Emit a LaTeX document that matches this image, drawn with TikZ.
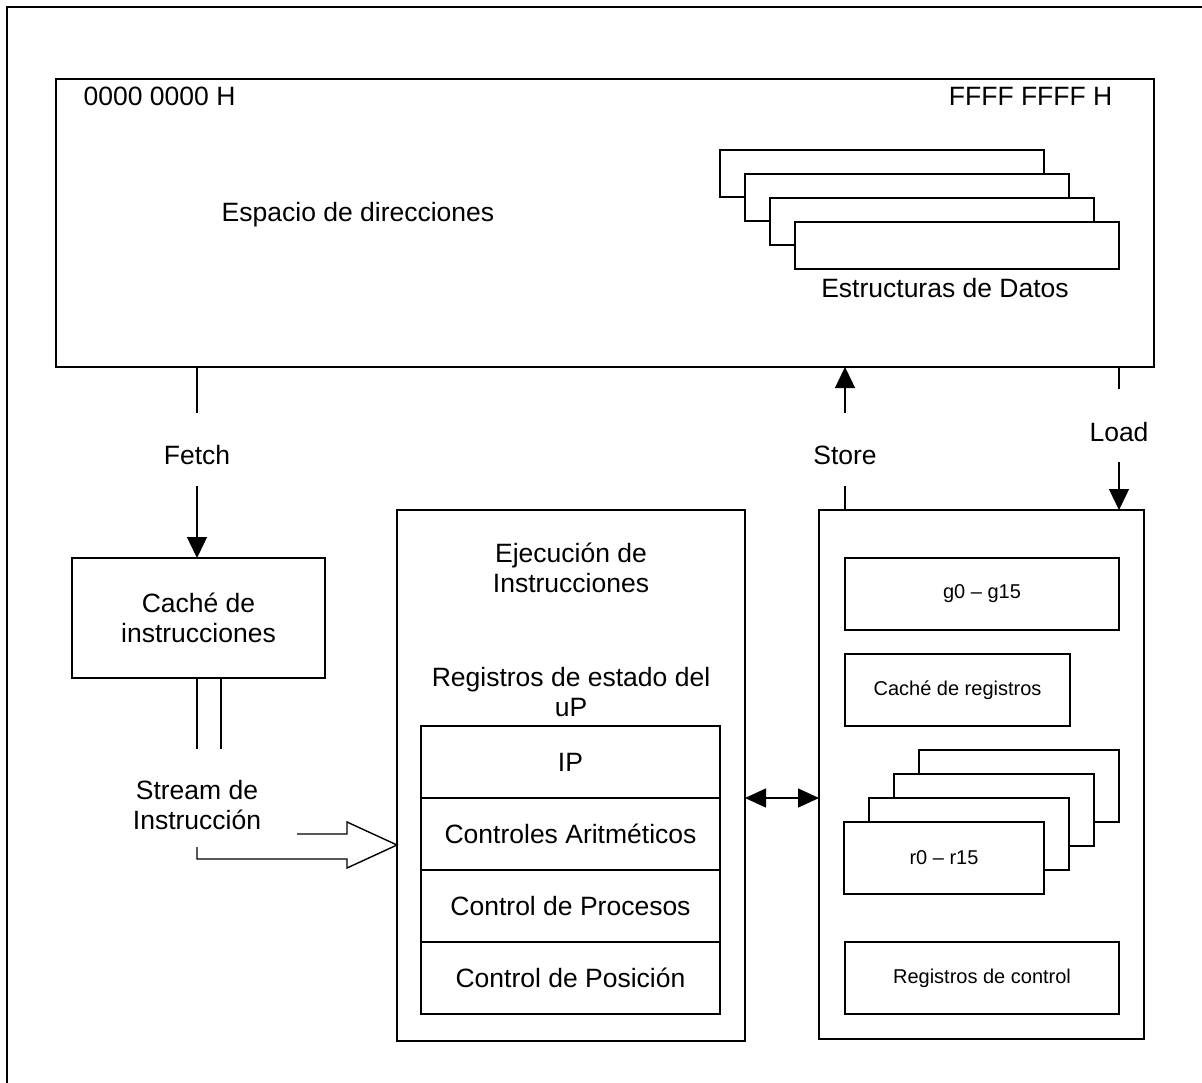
\documentclass[tikz,border=0pt]{standalone}
\usepackage{fontspec}
\setmainfont{Liberation Sans}
\usetikzlibrary{arrows.meta}
\begin{document}
\begin{tikzpicture}[x=1pt,y=-1pt,
  line width=1.4pt,
  box/.style={draw, fill=white, inner sep=0pt, outer sep=0pt, anchor=north west},
  big/.style={font=\fontsize{26.5}{30}\selectfont, align=center, inner sep=0pt},
  small/.style={font=\fontsize{20}{24}\selectfont, inner sep=0pt},
  tip/.style={-{Triangle[width=20pt,length=21pt]}},
  dbl/.style={{Triangle[width=19pt,length=21pt]}-{Triangle[width=19pt,length=21pt]}}]
\useasboundingbox (0,0) rectangle (1202,1082);
\clip (0,0) rectangle (1202,1082);
\fill[white] (0,0) rectangle (1202,1082);
% outer frame (runs past the right and bottom edges)
\draw (7,7) rectangle (1240,1110);

% address space
\node[box, minimum width=1098pt, minimum height=288pt] (mem) at (56,79) {};
\node[big, anchor=west] (lo) at (83,96) {0000 0000 H};
\node[big, anchor=east] (hi) at (1113,96) {FFFF FFFF H};
\node[big] (esp) at (358,215) {Espacio de direcciones};

% stacked data structures
\foreach \i in {0,...,3}
  \node[box, minimum width=324pt, minimum height=47pt] (ds\i) at ({720+25*\i},{150+24*\i}) {};
\node[big] (dslbl) at (945,288) {Estructuras de Datos};

% instruction cache
\node[box, big, minimum width=253pt, minimum height=120pt] (cache) at (72,558) {Caché de\\instrucciones};

% execution unit
\node[box, minimum width=348pt, minimum height=531pt] (exec) at (397,510) {};
\node[big] (ejec) at (571,568) {Ejecución de\\Instrucciones};
\node[big] (rest) at (571,692) {Registros de estado del\\uP};
\node[box, big, minimum width=299pt, minimum height=72pt] (ip) at (421,726) {IP};
\node[box, big, minimum width=299pt, minimum height=72pt] (arit) at (421,798) {Controles Aritméticos};
\node[box, big, minimum width=299pt, minimum height=72pt] (proc) at (421,870) {Control de Procesos};
\node[box, big, minimum width=299pt, minimum height=72pt] (pos) at (421,942) {Control de Posición};

% register file
\node[box, minimum width=325pt, minimum height=529pt] (regs) at (819,510) {};
\node[box, small, minimum width=274pt, minimum height=72pt] (g) at (845,558) {g0 – g15};
\node[box, small, minimum width=225pt, minimum height=72pt] (rc) at (845,654) {Caché de registros};
\foreach \i in {3,2,1}
  \node[box, minimum width=200pt, minimum height=72pt] (r\i) at ({844+25*\i},{822-24*\i}) {};
\node[box, small, minimum width=200pt, minimum height=72pt] (r0) at (844,822) {r0 – r15};
\node[box, small, minimum width=274pt, minimum height=72pt] (ctl) at (845,942) {Registros de control};

% fetch
\node[big] (fetch) at (197,455) {Fetch};
\coordinate (f1) at (197,413);
\coordinate (f2) at (197,486);
\draw (mem.south -| f1) -- (f1);
\draw[tip] (f2) -- (cache.north -| f2);

% store
\node[big] (store) at (845,455) {Store};
\coordinate (st1) at (845,486);
\coordinate (st2) at (845,413);
\draw (regs.north -| st1) -- (st1);
\draw[tip] (st2) -- (mem.south -| st2);

% load
\node[big] (load) at (1119,432) {Load};
\coordinate (ld1) at (1119,389);
\coordinate (ld2) at (1119,462);
\draw (mem.south -| ld1) -- (ld1);
\draw[tip] (ld2) -- (regs.north -| ld2);

% instruction stream
\coordinate (s1) at (197,749);
\coordinate (s2) at (221,749);
\draw (cache.south -| s1) -- (s1);
\draw (cache.south -| s2) -- (s2);
\node[big] (stream) at (197,805) {Stream de\\Instrucción};
\coordinate (hs) at (297,834);
\coordinate (hb) at (197,847);
\draw[line join=miter] (hs) -- (347,834) -- (347,822) -- (exec.west |- 0,845)
  -- (347,868) -- (347,859) -- (197,859) -- (hb);

% execution <-> registers
\draw[dbl] (exec.east |- ip.south) -- (regs.west |- ip.south);
\end{tikzpicture}
\end{document}
